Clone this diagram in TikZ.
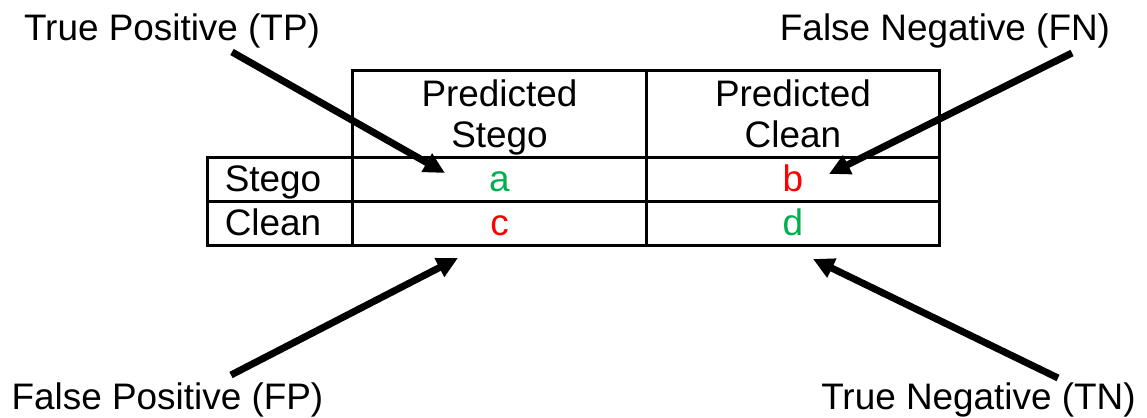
\documentclass[tikz,border=0pt]{standalone}
\usepackage{fontspec}
\setmainfont{Liberation Sans}
\usetikzlibrary{positioning,arrows.meta}
\definecolor{hitgreen}{RGB}{0,176,80}
\definecolor{missred}{RGB}{255,0,0}
% two header lines, padded so that both columns sit alike
\newcommand\headlines[2]{\rule{0pt}{0.72cm}#1\\#2\rule[-0.2cm]{0pt}{0.2cm}}
\begin{document}
\begin{tikzpicture}[x=0.02cm, y=-0.02cm,
   every node/.style={font=\fontsize{21}{22.8}\selectfont, inner sep=0, outer sep=0},
   node distance=0pt,
   head/.style={draw, line width=0.06cm, minimum width=5.87cm, minimum height=1.76cm, align=center},
   cell/.style={draw, line width=0.06cm, minimum width=5.87cm, minimum height=0.88cm,
                text height=0.62cm, text depth=0.14cm},
   rowhead/.style={cell, minimum width=2.9cm, inner xsep=0.34cm, text width=2.22cm, align=left},
   pointer/.style={line width=0.14cm, -{Triangle[length=0.42cm,width=0.4cm]}}]

\useasboundingbox (0,0) rectangle (1147,418);

% the table
\node[head] (predStego) at (499.5,114) {\headlines{Predicted}{Stego}};
\node[head, right=of predStego] (predClean) {\headlines{Predicted}{Clean}};
\node[cell, below=of predStego, text=hitgreen] (cellA) {a};
\node[cell, below=of predClean, text=missred] (cellB) {b};
\node[cell, below=of cellA, text=missred] (cellC) {c};
\node[cell, below=of cellB, text=hitgreen] (cellD) {d};
\node[rowhead, left=of cellA] (rowStego) {Stego};
\node[rowhead, left=of cellC] (rowClean) {Clean};

% outcome labels
\node[anchor=base] (tp) at (172,41) {True Positive (TP)};
\node[anchor=base] (fn) at (945,41) {False Negative (FN)};
\node[anchor=base] (fp) at (167.5,410) {False Positive (FP)};
\node[anchor=base] (tn) at (978.5,410) {True Negative (TN)};

\coordinate (tpFrom) at (232,52);   \coordinate (tpTo) at (445,173);
\coordinate (fnFrom) at (1072,53);  \coordinate (fnTo) at (829,174);
\coordinate (fpFrom) at (231,375);  \coordinate (fpTo) at (458,258);
\coordinate (tnFrom) at (1058,378); \coordinate (tnTo) at (813,259);

\draw[pointer] (tpFrom) -- (tpTo);
\draw[pointer] (fnFrom) -- (fnTo);
\draw[pointer] (fpFrom) -- (fpTo);
\draw[pointer] (tnFrom) -- (tnTo);

\end{tikzpicture}
\end{document}
